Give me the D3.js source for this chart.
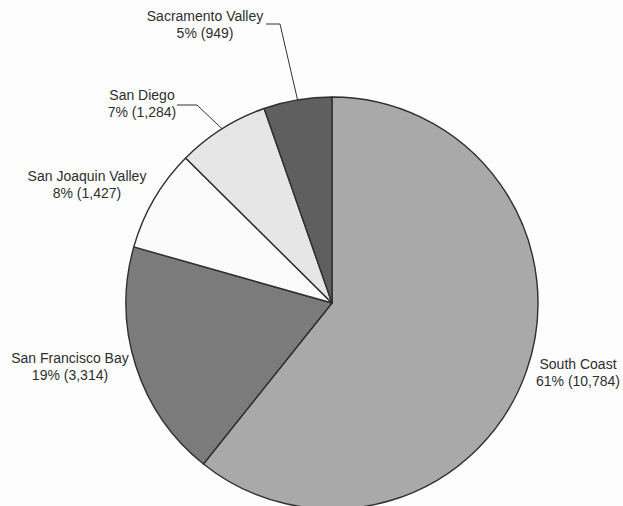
<!DOCTYPE html>
<html>
<head>
<meta charset="utf-8">
<script src="https://cdn.jsdelivr.net/npm/d3@7/dist/d3.min.js"></script>
<style>
  html, body { margin: 0; padding: 0; background: #fdfdfd; }
  svg { display: block; }
  text { font-family: "Liberation Sans", Arial, sans-serif; font-size: 14px; fill: #2e2e2e; }
</style>
</head>
<body>
<svg id="chart" width="623" height="506"></svg>
<script>
// ---- data ----
const regions = ["South Coast", "San Francisco Bay", "San Joaquin Valley", "San Diego", "Sacramento Valley"];
const counts = [10784, 3314, 1427, 1284, 949];
const percentLabels = ["61%", "19%", "8%", "7%", "5%"];
const countLabels = ["10,784", "3,314", "1,427", "1,284", "949"];

// ---- layout ----
const W = 623, H = 506;
const cx = 332, cy = 303, R = 206;
const sliceColors = ["#a9a9a9", "#7b7b7b", "#fbfbfb", "#e6e6e6", "#5f5f5f"];
// label anchor (text center x, first-line baseline y)
const labelPos = [[578, 369], [70, 363], [87, 181], [142, 100], [205, 21]];
// leader lines: [startX, y, elbowX] or null
const leaders = [null, null, null, [177, 105, 197], [266, 24, 280]];

const svg = d3.select("#chart");
const g = svg.append("g").attr("transform", `translate(${cx},${cy})`);

const pie = d3.pie().sort(null).value(d => d)(counts);
const arc = d3.arc().innerRadius(0).outerRadius(R);
const color = d3.scaleOrdinal().domain(regions).range(sliceColors);

g.selectAll("path.slice")
  .data(pie)
  .join("path")
  .attr("class", "slice")
  .attr("d", arc)
  .attr("fill", (d, i) => color(regions[i]))
  .attr("stroke", "#2f2f2f")
  .attr("stroke-width", 1.4)
  .attr("stroke-linejoin", "round");

// leader lines
pie.forEach((d, i) => {
  const L = leaders[i];
  if (!L) return;
  const a = (d.startAngle + d.endAngle) / 2;
  const ex = cx + R * Math.sin(a), ey = cy - R * Math.cos(a);
  svg.append("polyline")
    .attr("points", `${L[0]},${L[1]} ${L[2]},${L[1]} ${ex},${ey}`)
    .attr("fill", "none")
    .attr("stroke", "#333")
    .attr("stroke-width", 1);
});

// labels
regions.forEach((name, i) => {
  const [x, y] = labelPos[i];
  const t = svg.append("text").attr("text-anchor", "middle");
  t.append("tspan").attr("x", x).attr("y", y).text(name);
  t.append("tspan").attr("x", x).attr("y", y + 17).text(`${percentLabels[i]} (${countLabels[i]})`);
});
</script>
</body>
</html>
